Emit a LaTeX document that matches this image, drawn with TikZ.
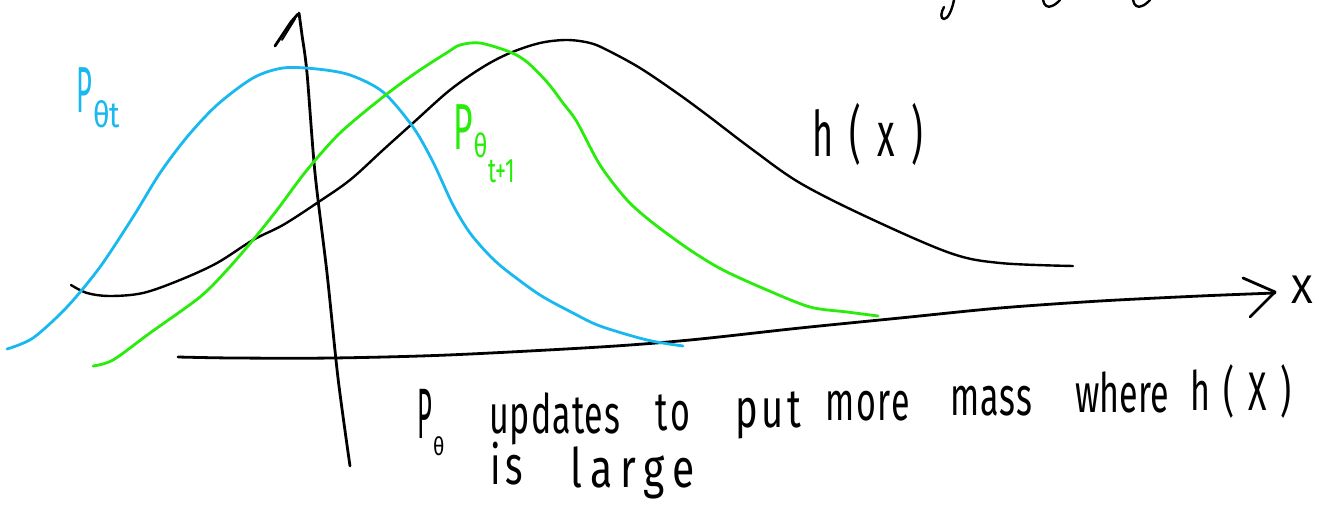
\documentclass[tikz,border=0pt]{standalone}
\usepackage{fontspec}
\setmainfont{Fira Sans}
\usepackage{graphicx}
\definecolor{pblue}{RGB}{25,185,240}
\definecolor{pgreen}{RGB}{40,236,10}
\newcommand\fsz[1]{\fontsize{#1}{#1}\selectfont}
\newcommand\lsp[2]{{\addfontfeature{LetterSpace=#1}#2}}
\begin{document}
\begin{tikzpicture}[x=1pt,y=-1pt,
  ink/.style={line width=2.4pt,line cap=round,line join=round},
  axis/.style={ink,line width=2.8pt},
  curve/.style={ink,line width=2.8pt},
  hw/.style={inner sep=0pt,anchor=base west}]
\useasboundingbox[fill=white] (0,0) rectangle (1322,521);

% y axis
\draw[axis] plot[smooth,tension=0.5] coordinates {(350,466) (338,378) (327,273) (315,173) (307,73) (302,35) (299,13)};
\draw[axis] (275,46) -- (291,22) -- (298,14);
\draw[ink,line width=1.8pt] (282,40) -- (295,19);
% x axis
\draw[axis] plot[smooth,tension=0.5] coordinates {(178,357) (233,358) (333,358) (448,355) (600,347) (690,340) (800,328) (900,318) (1000,308) (1100,301) (1200,296) (1275,293)};
\draw[axis] (1243,278) -- (1275,292) -- (1250,317);

% h(x)
\draw[ink,black] plot[smooth,tension=0.55] coordinates {(71,285) (87,293) (110,296) (143,293) (180,280) (217,263) (253,240) (283,225) (317,203) (350,180) (383,150) (413,123) (450,90) (483,67) (510,53) (540,43) (567,40) (590,43) (607,50) (640,68) (677,93) (707,115) (753,150) (800,183) (867,217) (950,253) (1000,263) (1073,266)};
% p theta t
\draw[curve,pblue] plot[smooth,tension=0.5] coordinates {(7,349) (33,338) (67,307) (100,267) (133,217) (160,173) (187,137) (217,105) (253,78) (283,68) (317,69) (350,75) (383,92) (413,127) (433,162) (453,205) (470,233) (490,256) (507,271) (540,295) (573,313) (600,326) (647,340) (683,346)};
% p theta t+1
\draw[curve,pgreen] plot[smooth,tension=0.5] coordinates {(93,366) (113,360) (150,333) (200,297) (227,270) (253,240) (277,210) (307,170) (340,133) (383,97) (417,72) (448,52) (460,45) (480,43) (510,52) (527,62) (547,82) (563,103) (577,122) (600,165) (627,200) (653,223) (690,250) (723,270) (767,290) (810,307) (847,312) (878,316)};

% cut-off strokes at the top edge
\draw[ink] (954,0) .. controls (952,10) and (948,19) .. (944,19) .. controls (940,19) and (941,12) .. (944,7);
\draw[ink] (1043,0) .. controls (1044,6) and (1048,8) .. (1052,6) .. controls (1055,5) and (1058,2) .. (1060,0);
\draw[ink] (1133,0) .. controls (1134,6) and (1138,8) .. (1142,6) .. controls (1145,5) and (1148,2) .. (1150,0);

% labels
\node[hw,text=pblue] (lblue) at (76,113) {{\fsz{42}\scalebox{0.65}[1.55]{P}}\kern1pt\raisebox{-15pt}{\fsz{24}\scalebox{1.2}[1.5]{θt}}};
\node[hw,text=pgreen] (lgreen) at (453,150) {{\fsz{42}\scalebox{0.8}[1.55]{P}}\kern1pt\raisebox{-8pt}{\fsz{22}\scalebox{1.1}[1.5]{θ}}\kern1pt\raisebox{-33pt}{\fsz{20}\scalebox{1.1}[1.7]{t+1}}};
\node[hw] (lh) at (812,157) {\scalebox{1}[1.75]{\fsz{36}\lsp{45}{h(x)}}};
\node[hw] (lx) at (1291,303) {\fsz{40}X};

% bottom text
\node[hw] (w0) at (417,438) {{\fsz{34}\scalebox{0.75}[2.1]{P}}\kern1pt\raisebox{-17pt}{\fsz{18}\scalebox{1.1}[1.4]{θ}}};
\node[hw] (w1) at (489,433) {\scalebox{1}[1.6]{\fsz{34}\lsp{3}{updates}}};
\node[hw] (w2) at (655,430) {\scalebox{1}[1.6]{\fsz{34}\lsp{10}{to}}};
\node[hw] (w3) at (735,427) {\scalebox{1.12}[1.6]{\fsz{34}\lsp{10}{put}}};
\node[hw] (w4) at (825,420) {\scalebox{1}[1.6]{\fsz{34}\lsp{5}{more}}};
\node[hw] (w5) at (950,415) {\scalebox{1}[1.6]{\fsz{34}\lsp{3}{mass}}};
\node[hw] (w6) at (1075,412) {\scalebox{1}[1.6]{\fsz{34}where}};
\node[hw] (w7) at (1190,410) {\scalebox{1}[1.6]{\fsz{34}\lsp{40}{h(X)}}};
\node[hw] (w8) at (490,484) {\scalebox{1.1}[1.6]{\fsz{34}\lsp{12}{is}}};
\node[hw] (w9) at (570,487) {\scalebox{1.2}[1.6]{\fsz{34}\lsp{20}{large}}};
\end{tikzpicture}
\end{document}
